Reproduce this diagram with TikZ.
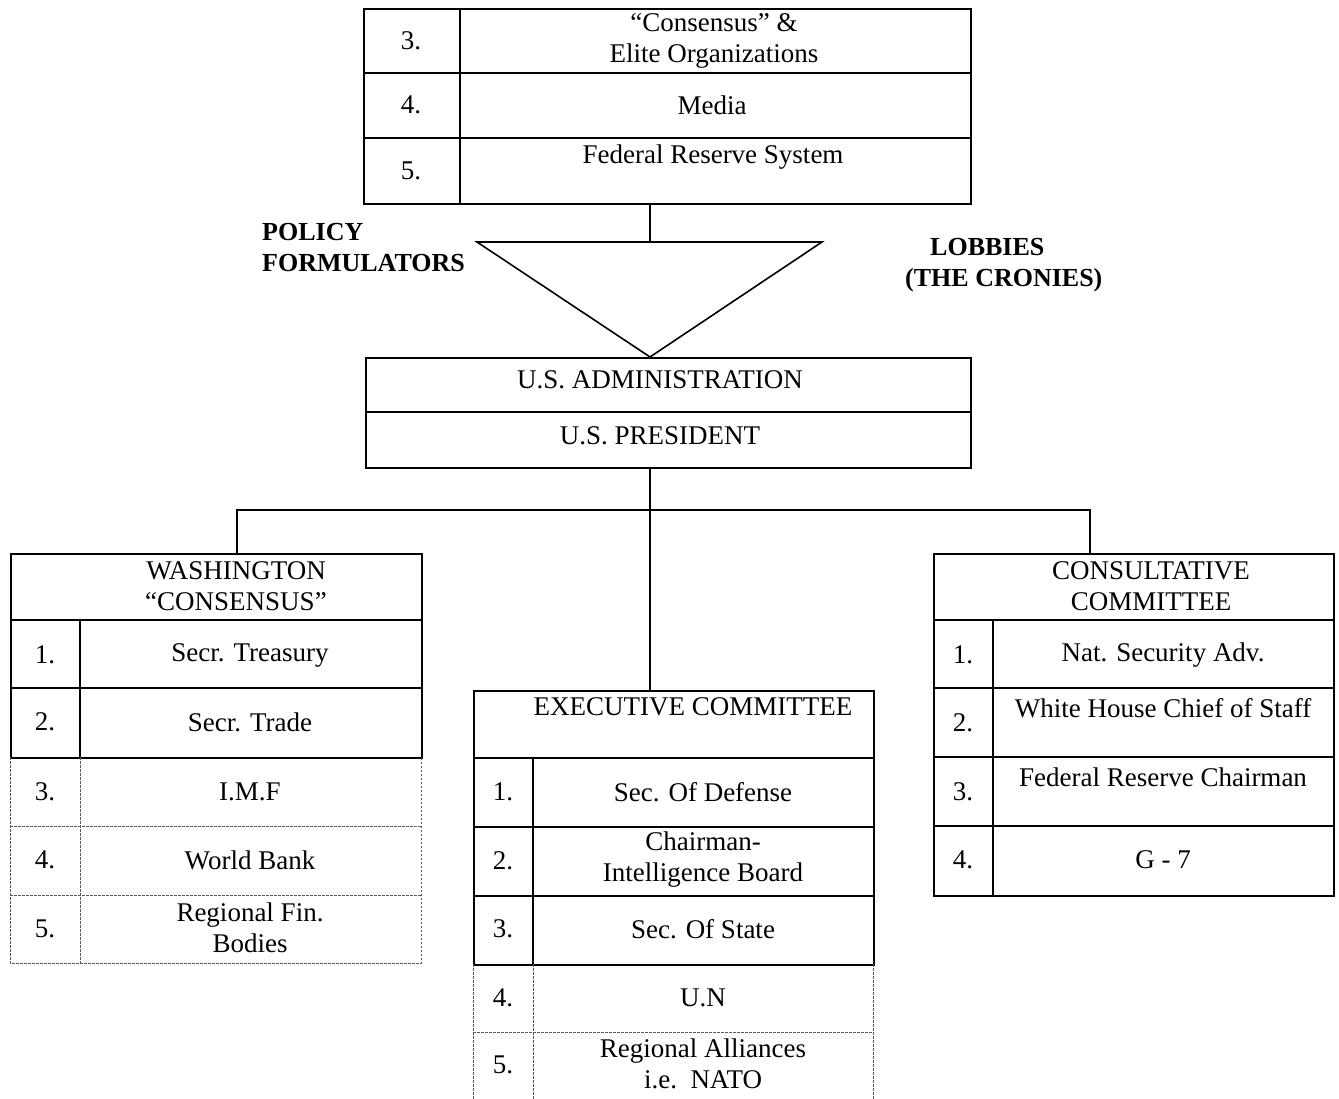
\documentclass[tikz,border=0pt]{standalone}
\usepackage{fontspec}
\setmainfont{Liberation Serif}
\begin{document}
\begin{tikzpicture}[x=1pt,y=-1pt,
  frame/.style={draw=black,line width=1.8pt,inner sep=0pt,anchor=north west},
  sep/.style={line width=1.8pt},
  dots/.style={draw=black!65,line width=0.9pt,dash pattern=on 2.5pt off 1.5pt},
  conn/.style={line width=1.6pt},
  txt/.style={font=\fontsize{27}{31}\selectfont,inner sep=0pt,align=center},
  lbl/.style={font=\bfseries\fontsize{26}{31}\selectfont,inner sep=0pt,align=left}]
\useasboundingbox (0,0) rectangle (1339,1099);

% ---------- top box ----------
\node[frame,minimum width=607pt,minimum height=195pt] (top) at (363,8) {};
\draw[sep] (460,8) -- (460,203);
\draw[sep] (363,73) -- (970,73);
\draw[sep] (363,138) -- (970,138);
\node[txt] (t3n) at (411,41) {3.};
\node[txt] (t3) at (714,41) {“Consensus” \&\\Elite Organizations};
\node[txt] (t4n) at (411,105) {4.};
\node[txt] (t4) at (712,105) {Media};
\node[txt] (t5n) at (411,171) {5.};
\node[txt] (t5) at (713,157) {Federal Reserve System};

% ---------- triangle ----------
\coordinate (triTop) at (650,242);
\coordinate (triL) at (477,242);
\coordinate (triR) at (822,242);
\coordinate (triB) at (650,357);
\draw[conn] (triTop |- top.south) -- (triTop);
\draw[conn,line join=miter] (triL) -- (triR) -- (triB) -- cycle;

\node[lbl,anchor=west] (policy) at (262,248) {POLICY\\FORMULATORS};
\node[lbl,anchor=west] (lobbies) at (930,247) {LOBBIES};
\node[lbl,anchor=west] (cronies) at (905,280) {(THE CRONIES)};

% ---------- administration ----------
\node[frame,minimum width=605pt,minimum height=110pt] (admin) at (365,357) {};
\draw[sep] (365,412) -- (970,412);
\node[txt] (adm) at (660,380) {U.S. ADMINISTRATION};
\node[txt] (pres) at (660,436) {U.S. PRESIDENT};

% ---------- tree connectors ----------
\coordinate (hub) at (650,510);
\coordinate (wDrop) at (237,553);
\coordinate (cDrop) at (1090,553);
\coordinate (eDrop) at (650,690);
\draw[conn] (hub |- admin.south) -- (hub);
\draw[conn] (wDrop) |- (hub) -| (cDrop);
\draw[conn] (hub) -- (eDrop);

% ---------- Washington consensus ----------
\node[frame,minimum width=411pt,minimum height=204pt] (wash) at (10,553) {};
\draw[sep] (10,620) -- (421,620);
\draw[sep] (10,688) -- (421,688);
\draw[sep] (80,620) -- (80,757);
\draw[dots] (10,757) -- (10,963) -- (421,963) -- (421,757);
\draw[dots] (80,757) -- (80,963);
\draw[dots] (10,826) -- (421,826);
\draw[dots] (10,895) -- (421,895);
\node[txt] (wh) at (236,586) {WASHINGTON\\“CONSENSUS”};
\node[txt] (w1n) at (45,655) {1.};
\node[txt] (w1) at (250,655) {Secr. Treasury};
\node[txt] (w2n) at (45,722) {2.};
\node[txt] (w2) at (250,722) {Secr. Trade};
\node[txt] (w3n) at (45,792) {3.};
\node[txt] (w3) at (250,792) {I.M.F};
\node[txt] (w4n) at (45,860) {4.};
\node[txt] (w4) at (250,860) {World Bank};
\node[txt] (w5n) at (45,929) {5.};
\node[txt] (w5) at (250,928) {Regional Fin.\\Bodies};

% ---------- Executive committee ----------
\node[frame,minimum width=400pt,minimum height=274pt] (exec) at (473,690) {};
\draw[sep] (473,758) -- (873,758);
\draw[sep] (473,827) -- (873,827);
\draw[sep] (473,896) -- (873,896);
\draw[sep] (533,758) -- (533,964);
\draw[dots] (473,964) -- (473,1099);
\draw[dots] (873,964) -- (873,1099);
\draw[dots] (533,964) -- (533,1099);
\draw[dots] (473,1032) -- (873,1032);
\node[txt] (eh) at (693,707) {EXECUTIVE COMMITTEE};
\node[txt] (e1n) at (503,792) {1.};
\node[txt] (e1) at (703,792) {Sec. Of Defense};
\node[txt] (e2n) at (503,861) {2.};
\node[txt] (e2) at (703,860) {Chairman-\\Intelligence Board};
\node[txt] (e3n) at (503,929) {3.};
\node[txt] (e3) at (703,929) {Sec. Of State};
\node[txt] (e4n) at (503,998) {4.};
\node[txt] (e4) at (703,998) {U.N};
\node[txt] (e5n) at (503,1065) {5.};
\node[txt] (e5) at (703,1064) {Regional Alliances\\i.e.\ \ NATO};

% ---------- Consultative committee ----------
\node[frame,minimum width=400pt,minimum height=342pt] (cons) at (933,553) {};
\draw[sep] (933,620) -- (1333,620);
\draw[sep] (933,688) -- (1333,688);
\draw[sep] (933,757) -- (1333,757);
\draw[sep] (933,826) -- (1333,826);
\draw[sep] (993,620) -- (993,895);
\node[txt] (ch) at (1151,586) {CONSULTATIVE\\COMMITTEE};
\node[txt] (c1n) at (963,655) {1.};
\node[txt] (c1) at (1163,655) {Nat. Security Adv.};
\node[txt] (c2n) at (963,723) {2.};
\node[txt] (c2) at (1163,708) {White House Chief of Staff};
\node[txt] (c3n) at (963,792) {3.};
\node[txt] (c3) at (1163,777) {Federal Reserve Chairman};
\node[txt] (c4n) at (963,860) {4.};
\node[txt] (c4) at (1163,860) {G - 7};
\end{tikzpicture}
\end{document}
